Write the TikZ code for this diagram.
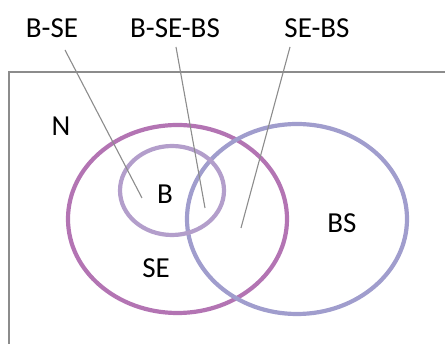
\documentclass[tikz,border=0pt]{standalone}
\usepackage{fontspec}
\setmainfont{Carlito}
\usepackage{tikz}
\usetikzlibrary{positioning,calc}
\definecolor{sepurple}{HTML}{B374B3}
\definecolor{bslilac}{HTML}{A09DCD}
\definecolor{blilac}{HTML}{B39ECB}
\definecolor{leadgray}{HTML}{8C8C8C}
\tikzstyle{lbl} = [font=\fontsize{29}{34}\selectfont, inner sep=0pt]
\tikzstyle{leader} = [leadgray, line width=1.1pt]
\tikzstyle{set} = [line width=4.2pt]

\begin{document}
\begin{tikzpicture}[x=1pt,y=-1pt]
\useasboundingbox (0,0) rectangle (445,344);
\draw[leadgray, line width=1.8pt] (9,360)--(9,72)--(460,72); %frame
% sets
\draw[set, sepurple] (177.5,219) ellipse (109.5 and 94);
\draw[set, bslilac] (297,219) ellipse (110 and 95);
\draw[set, blilac] (172,190.5) ellipse (52 and 44.5);
% region names
\draw (61,126) node (n) [lbl] {N};
\draw (165,194) node (b) [lbl] {B};
\draw (156,268) node (se) [lbl] {SE};
\draw (342,223) node (bs) [lbl] {BS};
% top labels
\draw (52,28) node (bse) [lbl] {B-SE};
\draw (175,28) node (bsebs) [lbl] {B-SE-BS};
\draw (317,28) node (sebs) [lbl] {SE-BS};
\coordinate (t1) at (65,50);
\coordinate (t2) at (176,47);
\coordinate (t3) at (290,47);
\coordinate (p1) at (142,198);
\coordinate (p2) at (205,208);
\coordinate (p3) at (241,228);
\draw[leader] (t1)--(p1);
\draw[leader] (t2)--(p2);
\draw[leader] (t3)--(p3);
\end{tikzpicture}
\end{document}
